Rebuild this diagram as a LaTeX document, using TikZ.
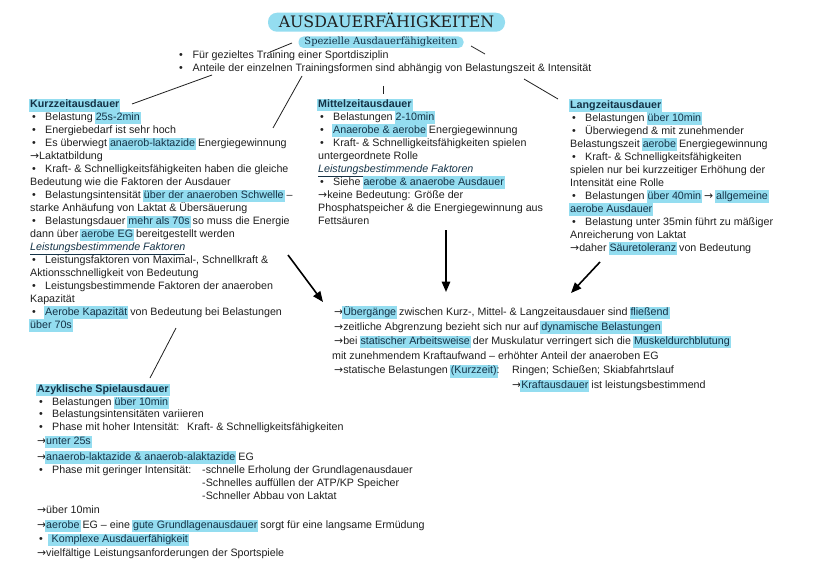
\documentclass[tikz,border=0pt]{standalone}
\usepackage{fontspec}
\setmainfont{Liberation Sans}
\newfontfamily\titlefont{DejaVu Serif}
\newfontfamily\arrfont{DejaVu Sans}
\usetikzlibrary{arrows.meta}
\definecolor{hl}{RGB}{148,221,240}
\definecolor{ink}{RGB}{32,32,32}
\definecolor{hink}{RGB}{20,50,70}
\newcommand\hlt[1]{{\setlength{\fboxsep}{1pt}\hspace{-1pt}\colorbox{hl}{\rule[-2.6pt]{0pt}{10.6pt}\color{hink}#1}\hspace{-1pt}}}
\newcommand\bul{\makebox[15pt][l]{\hspace{2pt}•}}
\newcommand\arr{{\arrfont\fontsize{10.8}{13}\selectfont →}}
\newcommand\lbfak[1]{{\color{hink}\underline{\textit{#1}}}}
\tikzset{
 txt/.style={anchor=base west, inner sep=0pt, font=\fontsize{10.7}{13}\selectfont, text=ink},
 conn/.style={draw=ink, line width=0.8pt},
 bigarrow/.style={draw=black, line width=1.6pt, -{Triangle[length=10.5pt,width=8.5pt]}},
}
\begin{document}
\begin{tikzpicture}[x=1pt,y=-1pt]
\useasboundingbox[fill=white] (0,0) rectangle (828,586);

% title
\node[anchor=base, fill=hl, rounded corners=9pt, minimum width=237pt, text height=11.5pt, text depth=0pt, inner ysep=3.75pt, inner xsep=0pt, font=\titlefont\fontsize{15.8}{18}\selectfont, text=ink] (title) at (386.5,28) {AUSDAUERFÄHIGKEITEN};
\node[anchor=base, fill=hl, rounded corners=5pt, minimum width=165pt, text height=7.5pt, text depth=2pt, inner ysep=1pt, inner xsep=0pt, font=\titlefont\fontsize{9.9}{11}\selectfont, text=hink] (spez) at (381,45) {Spezielle Ausdauerfähigkeiten};

\node[txt] (p1) at (179,58.5) {\makebox[13.5pt][l]{•}Für gezieltes Training einer Sportdisziplin};
\node[txt] (p2) at (179,71.5) {\makebox[13.5pt][l]{•}Anteile der einzelnen Trainingsformen sind abhängig von Belastungszeit \& Intensität};

% Kurzzeit
\foreach \t [count=\i from 0] in {
 {\hlt{\textbf{Kurzzeitausdauer}}},
 {\bul Belastung \hlt{25s-2min}},
 {\bul Energiebedarf ist sehr hoch},
 {\bul Es überwiegt \hlt{anaerob-laktazide} Energiegewinnung},
 {\arr Laktatbildung},
 {\bul Kraft- \& Schnelligkeitsfähigkeiten haben die gleiche},
 {Bedeutung wie die Faktoren der Ausdauer},
 {\bul Belastungsintensität \hlt{über der anaeroben Schwelle} –},
 {starke Anhäufung von Laktat \& Übersäuerung},
 {\bul Belastungsdauer \hlt{mehr als 70s} so muss die Energie},
 {dann über \hlt{aerobe EG} bereitgestellt werden},
 {\lbfak{Leistungsbestimmende Faktoren}},
 {\bul Leistungsfaktoren von Maximal-, Schnellkraft \&},
 {Aktionsschnelligkeit von Bedeutung},
 {\bul Leistungsbestimmende Faktoren der anaeroben},
 {Kapazität},
 {\bul \hlt{Aerobe Kapazität} von Bedeutung bei Belastungen},
 {\hlt{über 70s}}
}{\node[txt] (k\i) at (30,107.9+12.96*\i) {\t};}

% Mittelzeit
\foreach \t [count=\i from 0] in {
 {\hlt{\textbf{Mittelzeitausdauer}}},
 {\bul Belastungen \hlt{2-10min}},
 {\bul \hlt{Anaerobe \& aerobe} Energiegewinnung},
 {\bul Kraft- \& Schnelligkeitsfähigkeiten spielen},
 {untergeordnete Rolle},
 {\lbfak{Leistungsbestimmende Faktoren}},
 {\bul Siehe \hlt{aerobe \& anaerobe Ausdauer}},
 {\arr keine Bedeutung: Größe der},
 {Phosphatspeicher \& die Energiegewinnung aus},
 {Fettsäuren}
}{\node[txt] (m\i) at (318,107.5+12.97*\i) {\t};}

% Langzeit
\foreach \t [count=\i from 0] in {
 {\hlt{\textbf{Langzeitausdauer}}},
 {\bul Belastungen \hlt{über 10min}},
 {\bul Überwiegend \& mit zunehmender},
 {Belastungszeit \hlt{aerobe} Energiegewinnung},
 {\bul Kraft- \& Schnelligkeitsfähigkeiten},
 {spielen nur bei kurzzeitiger Erhöhung der},
 {Intensität eine Rolle},
 {\bul Belastungen \hlt{über 40min} \arr\ \hlt{allgemeine}},
 {\hlt{aerobe Ausdauer}},
 {\bul Belastung unter 35min führt zu mäßiger},
 {Anreicherung von Laktat},
 {\arr daher \hlt{Säuretoleranz} von Bedeutung}
}{\node[txt] (l\i) at (570,108.3+13*\i) {\t};}

% center block
\node[txt] (c1) at (334,315.5) {\arr\hlt{Übergänge} zwischen Kurz-, Mittel- \& Langzeitausdauer sind \hlt{fließend}};
\node[txt] (c2) at (334,330.1) {\arr zeitliche Abgrenzung bezieht sich nur auf \hlt{dynamische Belastungen}};
\node[txt] (c3) at (334,344.7) {\arr bei \hlt{statischer Arbeitsweise} der Muskulatur verringert sich die \hlt{Muskeldurchblutung}};
\node[txt] (c4) at (332,359.3) {mit zunehmendem Kraftaufwand – erhöhter Anteil der anaeroben EG};
\node[txt] (c5) at (334,373.9) {\arr statische Belastungen \hlt{(Kurzzeit)}:};
\node[txt] (c5b) at (512,373.9) {Ringen; Schießen; Skiabfahrtslauf};
\node[txt] (c6) at (512,388.5) {\arr\hlt{Kraftausdauer} ist leistungsbestimmend};

% Azyklische
\node[txt] (a0) at (37,392.5) {\hlt{\textbf{Azyklische Spielausdauer}}};
\node[txt] (a1) at (37,405.6) {\bul Belastungen \hlt{über 10min}};
\node[txt] (a2) at (37,417.8) {\bul Belastungsintensitäten variieren};
\node[txt] (a3) at (37,430.8) {\bul Phase mit hoher Intensität:};
\node[txt] (a3b) at (187,430.8) {Kraft- \& Schnelligkeitsfähigkeiten};
\node[txt] (a4) at (37,444.5) {\arr\hlt{unter 25s}};
\node[txt] (a5) at (37,460.2) {\arr\hlt{anaerob-laktazide \& anaerob-alaktazide} EG};
\node[txt] (a6) at (37,473.5) {\bul Phase mit geringer Intensität:};
\node[txt] (a6b) at (202,473.5) {-schnelle Erholung der Grundlagenausdauer};
\node[txt] (a7) at (202,486.8) {-Schnelles auffüllen der ATP/KP Speicher};
\node[txt] (a8) at (202,499.5) {-Schneller Abbau von Laktat};
\node[txt] (a9) at (37,513.5) {\arr über 10min};
\node[txt] (a10) at (37,528.5) {\arr\hlt{aerobe} EG – eine \hlt{gute Grundlagenausdauer} sorgt für eine langsame Ermüdung};
\node[txt] (a11) at (37,542.8) {\makebox[12pt][l]{\hspace{2pt}•}\hlt{\hspace{2.5pt}Komplexe Ausdauerfähigkeit}};
\node[txt] (a12) at (37,556.2) {\arr vielfältige Leistungsanforderungen der Sportspiele};

% connector end points
\coordinate (s1a) at (292,43);  \coordinate (s1b) at (270,52);
\coordinate (s2a) at (471,46);  \coordinate (s2b) at (485,54);
\coordinate (q1a) at (212,75);  \coordinate (q1b) at (132,104);
\coordinate (q2a) at (302,76);  \coordinate (q2b) at (273,128);
\coordinate (q3a) at (383,86);  \coordinate (q3b) at (383,94);
\coordinate (q4a) at (524,79);  \coordinate (q4b) at (558,99);
\coordinate (q5a) at (176,328); \coordinate (q5b) at (150,378);
\coordinate (r1a) at (288,255); \coordinate (r1b) at (323,302);
\coordinate (r2a) at (446,230); \coordinate (r2b) at (446,292);
\coordinate (r3a) at (600,262); \coordinate (r3b) at (571,293);

\draw[conn] (s1a) -- (s1b);
\draw[conn] (s2a) -- (s2b);
\draw[conn] (q1a) -- (q1b);
\draw[conn] (q2a) -- (q2b);
\draw[conn] (q3a) -- (q3b);
\draw[conn] (q4a) -- (q4b);
\draw[conn] (q5a) -- (q5b);
\draw[bigarrow] (r1a) -- (r1b);
\draw[bigarrow] (r2a) -- (r2b);
\draw[bigarrow] (r3a) -- (r3b);
\end{tikzpicture}
\end{document}
